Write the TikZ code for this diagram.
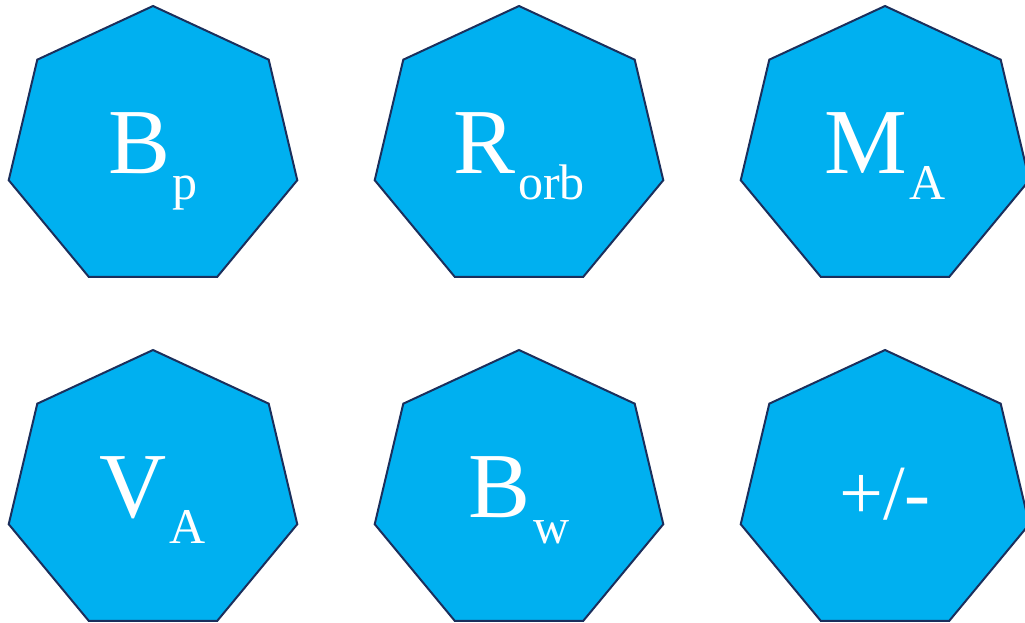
\documentclass[tikz,border=0pt]{standalone}
\usepackage{tikz}
\usepackage{fontspec}
\setmainfont{Liberation Serif}
\definecolor{heptfill}{HTML}{00B0F0}
\definecolor{heptline}{HTML}{1B2F5C}
\newcommand{\subtxt}[1]{\kern0.03em\raisebox{-0.28em}{\fontsize{50}{50}\selectfont #1}}

\begin{document}
\begin{tikzpicture}[x=1pt, y=-1pt,
    hept/.style={draw=heptline, fill=heptfill, line width=2pt, line join=miter},
    lbl/.style={text=white, anchor=base, inner sep=0pt, font=\fontsize{93}{93}\selectfont}]
  \useasboundingbox (0,0) rectangle (1025,622);
  % heptagons
  \foreach \cx/\cy in {153/148.5, 519/148.5, 885/148.5, 153/492.5, 519/492.5, 885/492.5}
    \draw[hept, shift={(\cx,\cy)}] (270:148 and 142.5)
      \foreach \k in {1,...,6} {-- ({270+\k*360/7}:148 and 142.5)} -- cycle;
  % labels
  \node[lbl] (bp) at (153,173) {B\subtxt{p}};
  \node[lbl] (rorb) at (519,173) {R\subtxt{orb}};
  \node[lbl] (ma) at (885,173) {M\subtxt{A}};
  \node[lbl] (va) at (153,517) {V\subtxt{A}};
  \node[lbl] (bw) at (519,517) {B\subtxt{w}};
  \node[lbl, font=\fontsize{78}{78}\selectfont] (pm) at (885,519) {+/-};
\end{tikzpicture}
\end{document}
